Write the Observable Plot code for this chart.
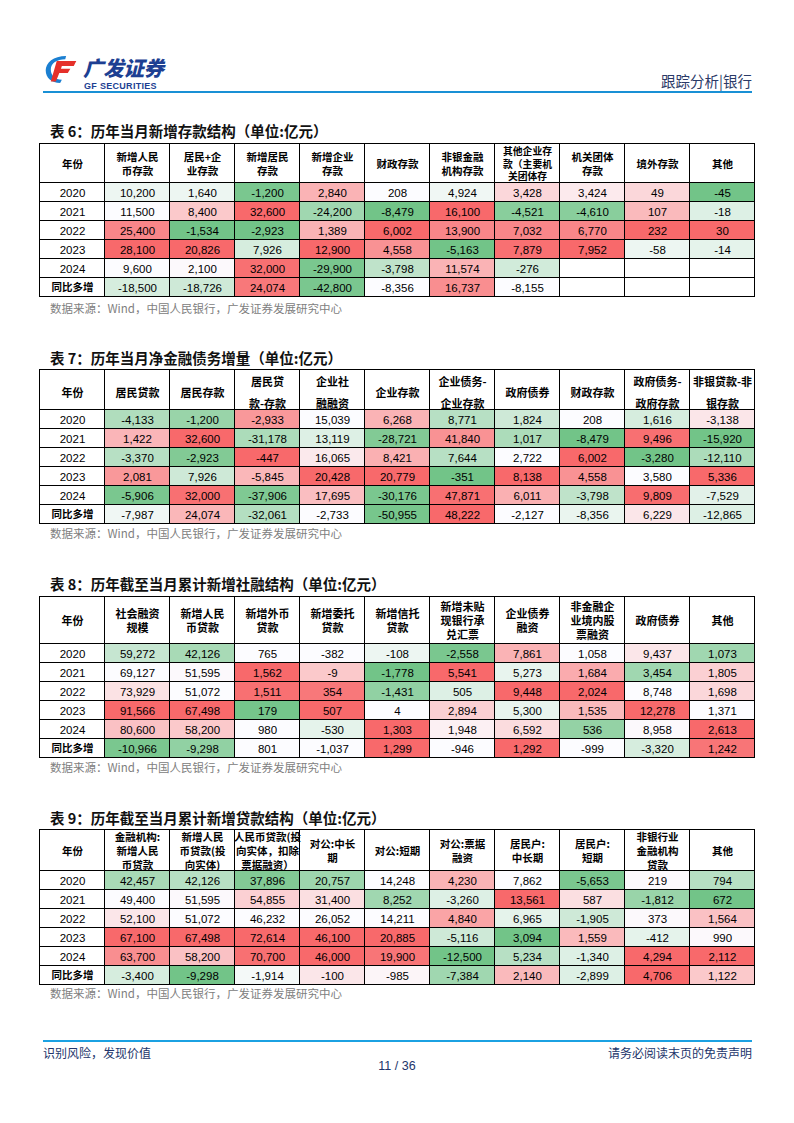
<!DOCTYPE html>
<html><head><meta charset="utf-8">
<script src="https://cdn.jsdelivr.net/npm/d3@7"></script>
<script src="https://cdn.jsdelivr.net/npm/@observablehq/plot@0.6"></script>
<style>
body{margin:0;background:#fff;}
#page{position:relative;width:794px;height:1123px;overflow:hidden;font-family:"Noto Sans CJK SC","Noto Sans",sans-serif;background:#fff;}
.abs{position:absolute;white-space:nowrap;}
.title{left:50px;font-size:14.5px;font-weight:bold;color:#111;line-height:18px;}
.src{left:50px;font-size:11.5px;color:#808080;line-height:14px;}
.navy{color:#22356b;}
</style></head><body><div id="page">
<svg class="abs" style="left:44px;top:55px" width="34" height="29" viewBox="0 0 40 34">
  <path d="M26,1 C11,1 2,9 2,18 C2,27 9,33 19,33 L21,29 C13,29 8,24 8,17 C8,10 15,5 25,5 Z" fill="#1b7fd1"/>
  <path d="M15,7 L38,7 L35,13 L21,13 L20,16 L31,16 L28,21 L18,21 L14,31 L8,31 Z" fill="#e5302a"/>
</svg>
<div class="abs navy" style="left:83px;top:57px;font-size:20.5px;line-height:20px;font-weight:900;font-style:italic;letter-spacing:-0.3px;color:#1d3f92">广发证券</div>
<div class="abs navy" style="left:84px;top:82px;font-size:9px;line-height:9px;font-weight:bold;font-family:'Liberation Sans',Arial,sans-serif;letter-spacing:0.3px;color:#1d3f92">GF SECURITIES</div>
<div class="abs navy" style="right:42px;top:70px;font-size:14.5px;color:#2b3a67">跟踪分析|银行</div>
<div class="abs" style="left:43px;top:91px;width:709px;height:1.5px;background:#1990d5"></div>

<div class="abs title" style="top:122px">表 6：历年当月新增存款结构（单位:亿元）</div>
<div class="abs src" style="top:301px">数据来源：Wind，中国人民银行，广发证券发展研究中心</div>
<div class="abs title" style="top:349px">表 7：历年当月净金融债务增量（单位:亿元）</div>
<div class="abs src" style="top:526px">数据来源：Wind，中国人民银行，广发证券发展研究中心</div>
<div class="abs title" style="top:575px">表 8：历年截至当月累计新增社融结构（单位:亿元）</div>
<div class="abs src" style="top:760px">数据来源：Wind，中国人民银行，广发证券发展研究中心</div>
<div class="abs title" style="top:809px">表 9：历年截至当月累计新增贷款结构（单位:亿元）</div>
<div class="abs src" style="top:986px">数据来源：Wind，中国人民银行，广发证券发展研究中心</div>

<div class="abs" style="left:43px;top:1040px;width:709px;height:1.5px;background:#1ba1e2"></div>
<div class="abs navy" style="left:43px;top:1044px;font-size:12px">识别风险，发现价值</div>
<div class="abs navy" style="right:42px;top:1044px;font-size:12px">请务必阅读末页的免责声明</div>
<div class="abs navy" style="left:0;width:794px;text-align:center;top:1059px;font-size:12.5px;font-family:'Liberation Sans',Arial,sans-serif">11 / 36</div>
</div>
<script>
// ---------- Data ----------
const rowLabels = ["2020", "2021", "2022", "2023", "2024", "同比多增"];

const t6Cols = ["年份", "新增人民\n币存款", "居民+企\n业存款", "新增居民\n存款", "新增企业\n存款", "财政存款", "非银金融\n机构存款", "其他企业存\n款（主要机\n关团体存", "机关团体\n存款", "境外存款", "其他"];
const t6Values = [
  [10200, 1640, -1200, 2840, 208, 4924, 3428, 3424, 49, -45],
  [11500, 8400, 32600, -24200, -8479, 16100, -4521, -4610, 107, -18],
  [25400, -1534, -2923, 1389, 6002, 13900, 7032, 6770, 232, 30],
  [28100, 20826, 7926, 12900, 4558, -5163, 7879, 7952, -58, -14],
  [9600, 2100, 32000, -29900, -3798, 11574, -276, null, null, null],
  [-18500, -18726, 24074, -42800, -8356, 16737, -8155, null, null, null]
];
// conditional-format shade: -1 green, 0 white, 1 red
const t6Heat = [
  [-0.1, -0.1, -0.85, 0.5, 0, -0.08, 0.25, 0.12, 0.25, -0.9],
  [0, 0.35, 1, -0.6, -0.9, 1, -0.75, -0.75, 0.45, -0.2],
  [0.8, -0.9, -0.9, 0.5, 1, 0.8, 0.8, 0.8, 1, 1],
  [1, 1, -0.25, 1, 0.72, -0.9, 0.95, 1, -0.1, -0.15],
  [0, 0.02, 0.95, -0.85, -0.4, 0.5, -0.28, null, null, null],
  [-0.25, -0.3, 0.9, -0.85, 0, 0.75, 0, null, null, null]
];

const t7Cols = ["年份", "居民贷款", "居民存款", "居民贷\n款-存款", "企业社\n融融资", "企业存款", "企业债务-\n企业存款", "政府债券", "财政存款", "政府债务-\n政府存款", "非银贷款-非\n银存款"];
const t7Values = [
  [-4133, -1200, -2933, 15039, 6268, 8771, 1824, 208, 1616, -3138],
  [1422, 32600, -31178, 13119, -28721, 41840, 1017, -8479, 9496, -15920],
  [-3370, -2923, -447, 16065, 8421, 7644, 2722, 6002, -3280, -12110],
  [2081, 7926, -5845, 20428, 20779, -351, 8138, 4558, 3580, 5336],
  [-5906, 32000, -37906, 17695, -30176, 47871, 6011, -3798, 9809, -7529],
  [-7987, 24074, -32061, -2733, -50955, 48222, -2127, -8356, 6229, -12865]
];
const t7Heat = [
  [-0.5, -0.65, 0.68, 0, 0.5, -0.45, -0.3, 0, -0.25, 0.15],
  [0.48, 1, -0.52, -0.2, -0.8, 0.72, -0.52, -0.9, 0.95, -0.9],
  [-0.45, -0.8, 1, 0.13, 0.52, -0.45, 0, 1, -0.9, -0.52],
  [0.68, -0.3, 0.47, 1, 1, -0.9, 1, 0.72, 0, 1],
  [-0.85, 0.95, -0.82, 0.42, -0.85, 0.95, 0.52, -0.4, 0.97, -0.17],
  [-0.08, 0.47, -0.47, 0, -0.87, 1, 0, -0.12, 0.15, -0.2]
];

const t8Cols = ["年份", "社会融资\n规模", "新增人民\n币贷款", "新增外币\n贷款", "新增委托\n贷款", "新增信托\n贷款", "新增未贴\n现银行承\n兑汇票", "企业债券\n融资", "非金融企\n业境内股\n票融资", "政府债券", "其他"];
const t8Values = [
  [59272, 42126, 765, -382, -108, -2558, 7861, 1058, 9437, 1073],
  [69127, 51595, 1562, -9, -1778, 5541, 5273, 1684, 3454, 1805],
  [73929, 51072, 1511, 354, -1431, 505, 9448, 2024, 8748, 1698],
  [91566, 67498, 179, 507, 4, 2894, 5300, 1535, 12278, 1371],
  [80600, 58200, 980, -530, 1303, 1948, 6592, 536, 8958, 2613],
  [-10966, -9298, 801, -1037, 1299, -946, 1292, -999, -3320, 1242]
];
const t8Heat = [
  [-0.35, -0.55, 0, 0, -0.1, -0.85, 0.5, 0, 0.15, -0.6],
  [0, 0.02, 1, 0.35, -0.9, 1, -0.13, 0.55, -0.6, 0.3],
  [0.18, 0, 0.95, 0.9, -0.7, -0.2, 1, 1, 0, 0.25],
  [1, 1, -0.88, 1, 0, 0.3, -0.13, 0.45, 1, 0],
  [0.4, 0.35, 0, -0.15, 1, 0.08, 0.22, -0.68, 0.02, 1],
  [-0.85, -0.7, 0, 0, 1, 0, 1, 0, -0.25, 0.92]
];

const t9Cols = ["年份", "金融机构:\n新增人民\n币贷款", "新增人民\n币贷款(投\n向实体)", "人民币贷款(投\n向实体，扣除\n票据融资）", "对公:中长\n期", "对公:短期", "对公:票据\n融资", "居民户:\n中长期", "居民户:\n短期", "非银行业\n金融机构\n贷款", "其他"];
const t9Values = [
  [42457, 42126, 37896, 20757, 14248, 4230, 7862, -5653, 219, 794],
  [49400, 51595, 54855, 31400, 8252, -3260, 13561, 587, -1812, 672],
  [52100, 51072, 46232, 26052, 14211, 4840, 6965, -1905, 373, 1564],
  [67100, 67498, 72614, 46100, 20885, -5116, 3094, 1559, -412, 990],
  [63700, 58200, 70700, 46000, 19900, -12500, 5234, -1340, 4294, 2112],
  [-3400, -9298, -1914, -100, -985, -7384, 2140, -2899, 4706, 1122]
];
const t9Heat = [
  [-0.55, -0.45, -0.8, -0.62, 0, 0.5, 0, -0.85, 0.02, -0.45],
  [0, 0.02, 0.3, 0.2, -0.6, -0.2, 1, 0.2, -0.65, -0.9],
  [0.15, 0, 0, 0, 0, 0.6, -0.15, -0.3, 0.02, 0.4],
  [1, 1, 1, 1, 1, -0.3, -0.9, 0.45, -0.15, 0.02],
  [0.75, 0.4, 0.95, 1, 0.92, -0.9, -0.45, -0.2, 1, 1],
  [-0.25, -0.9, -0.05, 0.15, 0.05, -0.6, 0.45, -0.2, 1, 0.35]
];

// ---------- Drawing ----------
const CJK = '"Noto Sans CJK SC", "Noto Sans", sans-serif';
const NUM = '"Liberation Sans", Arial, sans-serif';
const fmt = v => v.toLocaleString("en-US");
const page = document.getElementById("page");

function place(svg, top) {
  svg.style.position = "absolute";
  svg.style.left = "0px";
  svg.style.top = top + "px";
  svg.style.background = "transparent";
  svg.style.maxWidth = "none";
  page.appendChild(svg);
}

function drawTable({cols, values, heat, headTop, headH, bodyH, lineHeight, headSize, tallSize}) {
  const xScale = {domain: d3.range(cols.length), axis: null, padding: 0, round: true};
  const hdr = cols.map((t, c) => ({c, t, r: "h"}));
  const head = Plot.plot({
    width: 794, height: headH + 2,
    marginLeft: 39, marginRight: 40, marginTop: 1, marginBottom: 1,
    x: xScale,
    y: {domain: ["h"], axis: null, padding: 0, round: true},
    marks: [
      Plot.cell(hdr, {x: "c", y: "r", fill: "#fff", stroke: "#000", strokeWidth: 1, inset: 0, dx: 0.5, dy: 0.5}),
      Plot.text(hdr, {x: "c", y: "r", text: "t", fontSize: d => d.t.split("\n").length > 2 ? tallSize : headSize, fontWeight: "bold", fontFamily: CJK, lineHeight, fill: "#000", dx: 0.5, dy: 0.5})
    ]
  });
  place(head, headTop - 1);

  const cells = [];
  rowLabels.forEach((r, ri) => {
    cells.push({c: 0, r, label: r});
    values[ri].forEach((v, ci) => cells.push({c: ci + 1, r, v, h: heat[ri][ci]}));
  });
  const body = Plot.plot({
    width: 794, height: bodyH + 1,
    marginLeft: 39, marginRight: 40, marginTop: 0, marginBottom: 1,
    x: xScale,
    y: {domain: rowLabels, axis: null, padding: 0, round: true},
    color: {type: "linear", domain: [-1, 0, 1], range: ["#63BE7B", "#FCFCFF", "#F8696B"], interpolate: "rgb"},
    marks: [
      Plot.cell(cells.filter(d => d.h != null), {x: "c", y: "r", fill: "h", inset: 0, dx: 0.5, dy: 0.5}),
      Plot.cell(cells, {x: "c", y: "r", fill: "none", stroke: "#000", strokeWidth: 1, inset: 0, dx: 0.5, dy: 0.5}),
      Plot.text(cells.filter(d => d.v != null), {x: "c", y: "r", text: d => fmt(d.v), fontSize: 11.5, fontFamily: NUM, fill: "#000", dx: 0.5, dy: 1}),
      Plot.text(cells.filter(d => d.label && /^\d/.test(d.label)), {x: "c", y: "r", text: "label", fontSize: 11.5, fontFamily: NUM, fill: "#000", dx: 0.5, dy: 1}),
      Plot.text(cells.filter(d => d.label && !/^\d/.test(d.label)), {x: "c", y: "r", text: "label", fontSize: 10.5, fontWeight: "bold", fontFamily: CJK, fill: "#000", dx: 0.5, dy: 0.5})
    ]
  });
  place(body, headTop + headH);
}

drawTable({cols: t6Cols, values: t6Values, heat: t6Heat, headTop: 143, headH: 39, bodyH: 114, lineHeight: 1.3, headSize: 10.5, tallSize: 9.8});
drawTable({cols: t7Cols, values: t7Values, heat: t7Heat, headTop: 369, headH: 40, bodyH: 114, lineHeight: 1.95, headSize: 11, tallSize: 11});
drawTable({cols: t8Cols, values: t8Values, heat: t8Heat, headTop: 596, headH: 47, bodyH: 114, lineHeight: 1.3, headSize: 11, tallSize: 11});
drawTable({cols: t9Cols, values: t9Values, heat: t9Heat, headTop: 829, headH: 41, bodyH: 114, lineHeight: 1.32, headSize: 10.5, tallSize: 10.5});
</script>
</body></html>
